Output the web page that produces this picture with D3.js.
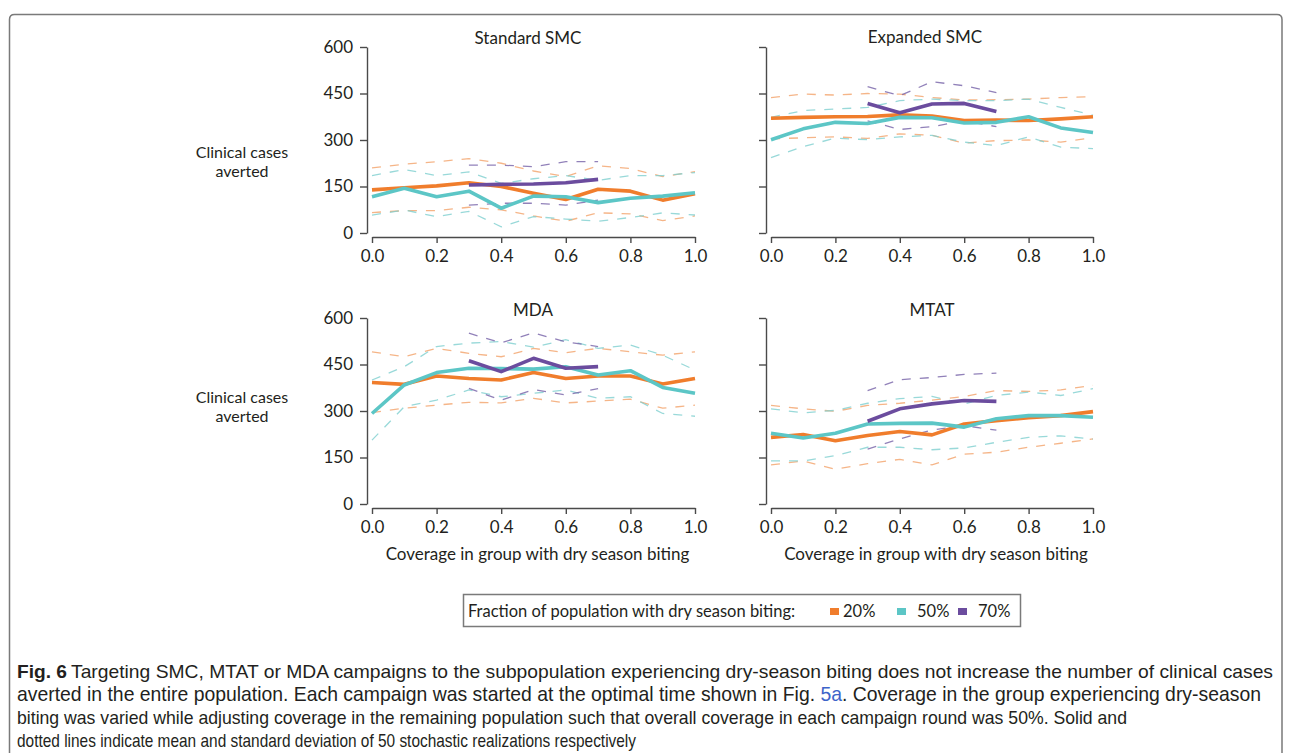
<!DOCTYPE html>
<html>
<head>
<meta charset="utf-8">
<script src="https://cdn.jsdelivr.net/npm/d3@7"></script>
<style>
  html, body { margin: 0; padding: 0; background: #fff; }
  svg { display: block; }
</style>
</head>
<body>
<svg id="chart" width="1290" height="753"></svg>
<script>
// ---------------- DATA ----------------
const coverage = [0, 0.1, 0.2, 0.3, 0.4, 0.5, 0.6, 0.7, 0.8, 0.9, 1.0];
const coverage70 = [0.3, 0.4, 0.5, 0.6, 0.7];
const panelTitles = ["Standard SMC", "Expanded SMC", "MDA", "MTAT"];
const yTickValues = [0, 150, 300, 450, 600];
const xTickValues = [0, 0.2, 0.4, 0.6, 0.8, 1.0];
const seriesNames = ["20%", "50%", "70%"];
const legendTitle = "Fraction of population with dry season biting:";
const yAxisTitle = ["Clinical cases", "averted"];
const xAxisTitle = "Coverage in group with dry season biting";

// Standard SMC
const stdSmc20Mean  = [139, 146, 152, 162, 150, 128, 108, 141, 135, 106, 127];
const stdSmc20Upper = [210, 222, 230, 240, 225, 200, 182, 217, 208, 182, 198];
const stdSmc20Lower = [66, 72, 72, 83, 75, 55, 38, 65, 62, 40, 55];
const stdSmc50Mean  = [117, 144, 117, 135, 80, 119, 117, 98, 112, 119, 130];
const stdSmc50Upper = [185, 205, 185, 197, 160, 175, 185, 170, 185, 185, 195];
const stdSmc50Lower = [58, 74, 53, 70, 20, 53, 45, 38, 50, 65, 58];
const stdSmc70Mean  = [155, 157, 158, 162, 173];
const stdSmc70Upper = [219, 219, 214, 230, 230];
const stdSmc70Lower = [90, 96, 96, 90, 106];

// Expanded SMC
const expSmc20Mean  = [370, 373, 375, 376, 381, 377, 363, 364, 363, 368, 375];
const expSmc20Upper = [437, 448, 445, 450, 448, 437, 429, 430, 432, 437, 440];
const expSmc20Lower = [304, 307, 310, 305, 320, 315, 290, 298, 300, 293, 308];
const expSmc50Mean  = [301, 336, 357, 353, 373, 372, 355, 357, 375, 339, 324];
const expSmc50Upper = [373, 395, 400, 405, 427, 432, 427, 427, 432, 405, 380];
const expSmc50Lower = [243, 279, 306, 301, 310, 315, 293, 282, 310, 277, 272];
const expSmc70Mean  = [418, 388, 416, 418, 392];
const expSmc70Upper = [472, 443, 488, 475, 453];
const expSmc70Lower = [362, 334, 343, 362, 343];

// MDA
const mda20Mean  = [392, 386, 413, 405, 400, 424, 405, 413, 413, 387, 405];
const mda20Upper = [491, 475, 502, 486, 475, 502, 488, 502, 491, 480, 491];
const mda20Lower = [295, 309, 319, 328, 326, 341, 326, 332, 338, 309, 319];
const mda50Mean  = [292, 384, 424, 438, 437, 435, 443, 416, 430, 376, 357];
const mda50Upper = [400, 443, 508, 519, 524, 506, 530, 502, 513, 480, 432];
const mda50Lower = [206, 314, 335, 368, 346, 357, 368, 341, 346, 292, 283];
const mda70Mean  = [462, 427, 470, 438, 443];
const mda70Upper = [551, 520, 552, 523, 508];
const mda70Lower = [373, 335, 369, 352, 372];

// MTAT
const mtat20Mean  = [215, 224, 204, 221, 234, 223, 258, 269, 278, 285, 298];
const mtat20Upper = [318, 307, 299, 318, 325, 335, 347, 366, 363, 368, 383];
const mtat20Lower = [126, 139, 112, 130, 144, 126, 161, 167, 183, 196, 210];
const mtat50Mean  = [228, 213, 228, 258, 260, 261, 248, 275, 285, 285, 280];
const mtat50Upper = [307, 294, 302, 325, 340, 347, 323, 350, 361, 350, 372];
const mtat50Lower = [139, 139, 156, 183, 183, 175, 181, 199, 215, 220, 209];
const mtat70Mean  = [267, 307, 323, 334, 331];
const mtat70Upper = [366, 401, 408, 418, 422];
const mtat70Lower = [177, 210, 239, 253, 238];

const captionLine1 = ["Fig. 6", "Targeting SMC, MTAT or MDA campaigns to the subpopulation experiencing dry-season biting does not increase the number of clinical cases"];
const captionLine2 = ["averted in the entire population. Each campaign was started at the optimal time shown in Fig. ", "5a", ". Coverage in the group experiencing dry-season"];
const captionLine3 = "biting was varied while adjusting coverage in the remaining population such that overall coverage in each campaign round was 50%. Solid and";
const captionLine4 = "dotted lines indicate mean and standard deviation of 50 stochastic realizations respectively";

// ---------------- LAYOUT / STYLE ----------------
const colors = ["#f07d2c", "#5cc6c6", "#6b4c9e"];
const dashColors = ["#f3a26a", "#7fcfd0", "#7662a8"];
const FONT = "Lato, 'Open Sans', sans-serif";
const CAPFONT = "'Liberation Sans', Arial, sans-serif";
const textColor = "#231f20";
const axisColor = "#4a4a4a";

const panels = [
  { title: panelTitles[0], x0: 372, x1: 695, yb: 233, yt: 47, labels: true, titleY: 44, titleX: 528,
    series: [[stdSmc20Mean, stdSmc20Upper, stdSmc20Lower], [stdSmc50Mean, stdSmc50Upper, stdSmc50Lower], [stdSmc70Mean, stdSmc70Upper, stdSmc70Lower]] },
  { title: panelTitles[1], x0: 771, x1: 1093, yb: 233, yt: 47, labels: false, titleY: 43, titleX: 925,
    series: [[expSmc20Mean, expSmc20Upper, expSmc20Lower], [expSmc50Mean, expSmc50Upper, expSmc50Lower], [expSmc70Mean, expSmc70Upper, expSmc70Lower]] },
  { title: panelTitles[2], x0: 372, x1: 695, yb: 504, yt: 318, labels: true, titleY: 316, titleX: 533, xTitle: true,
    series: [[mda20Mean, mda20Upper, mda20Lower], [mda50Mean, mda50Upper, mda50Lower], [mda70Mean, mda70Upper, mda70Lower]] },
  { title: panelTitles[3], x0: 771, x1: 1093, yb: 504, yt: 318, labels: false, titleY: 316, titleX: 932, xTitle: true,
    series: [[mtat20Mean, mtat20Upper, mtat20Lower], [mtat50Mean, mtat50Upper, mtat50Lower], [mtat70Mean, mtat70Upper, mtat70Lower]] }
];

const svg = d3.select("#chart");

// outer frame
svg.append("path")
  .attr("d", "M9.5,753 V19.5 Q9.5,14.5 14.5,14.5 H1277 Q1282,14.5 1282,19.5 V753")
  .attr("fill", "none").attr("stroke", "#7a7a7a").attr("stroke-width", 1.5);

panels.forEach(p => {
  const g = svg.append("g");
  const x = d3.scaleLinear().domain([0, 1]).range([p.x0, p.x1]);
  const y = d3.scaleLinear().domain([0, 600]).range([p.yb, p.yt]);

  const ya = g.append("g").attr("transform", `translate(${p.x0 - 5},0)`)
    .call(d3.axisLeft(y).tickValues(yTickValues).tickSize(7).tickSizeOuter(0).tickPadding(7)
      .tickFormat(p.labels ? d3.format("d") : () => ""));
  const xa = g.append("g").attr("transform", `translate(0,${p.yb + 4})`)
    .call(d3.axisBottom(x).tickValues(xTickValues).tickSize(6).tickSizeOuter(0).tickPadding(7)
      .tickFormat(d3.format(".1f")));
  [ya, xa].forEach(a => {
    a.attr("font-family", FONT).attr("font-size", 17);
    a.selectAll("path, line").attr("stroke", axisColor).attr("stroke-width", 1.4);
    a.selectAll("text").attr("fill", textColor);
  });

  g.append("text").attr("x", p.titleX).attr("y", p.titleY).attr("text-anchor", "middle")
    .attr("font-family", FONT).attr("font-size", 17).attr("fill", textColor).text(p.title);

  if (p.labels) {
    const cy = (p.yb + p.yt) / 2;
    const off = p.yb < 300 ? 21 : -5;
    yAxisTitle.forEach((t, i) => {
      g.append("text").attr("x", 242).attr("y", cy + off + i * 19 - 3).attr("text-anchor", "middle")
        .attr("font-family", FONT).attr("font-size", 16).attr("fill", textColor).text(t);
    });
  }
  if (p.xTitle) {
    g.append("text").attr("x", (p.x0 + p.x1) / 2 + 4).attr("y", p.yb + 56).attr("text-anchor", "middle")
      .attr("font-family", FONT).attr("font-size", 17).attr("fill", textColor).text(xAxisTitle);
  }

  const line = d3.line().x(d => x(d[0])).y(d => y(d[1]));
  p.series.forEach((s, si) => {
    const xs = si === 2 ? coverage70 : coverage;
    [s[1], s[2]].forEach(arr => {
      g.append("path").datum(xs.map((xv, i) => [xv, arr[i]]))
        .attr("d", line).attr("fill", "none")
        .attr("stroke", dashColors[si]).attr("stroke-width", 1.3)
        .attr("stroke-opacity", 0.8)
        .attr("stroke-dasharray", "9,9");
    });
  });
  p.series.forEach((s, si) => {
    const xs = si === 2 ? coverage70 : coverage;
    g.append("path").datum(xs.map((xv, i) => [xv, s[0][i]]))
      .attr("d", line).attr("fill", "none")
      .attr("stroke", colors[si]).attr("stroke-width", 3.6)
      .attr("stroke-linejoin", "round");
  });
});

// legend
const lg = svg.append("g");
lg.append("rect").attr("x", 463.5).attr("y", 594.5).attr("width", 557).attr("height", 32)
  .attr("fill", "#fff").attr("stroke", "#7a7a7a").attr("stroke-width", 1.5);
lg.append("text").attr("x", 468).attr("y", 617).attr("font-family", FONT).attr("font-size", 16.5)
  .attr("fill", textColor).text(legendTitle);
const legendX = [830, 897, 958];
const legendTextX = [843, 917, 978];
seriesNames.forEach((n, i) => {
  lg.append("rect").attr("x", legendX[i]).attr("y", 608).attr("width", 9).attr("height", 7)
    .attr("fill", colors[i]);
  lg.append("text").attr("x", legendTextX[i]).attr("y", 617).attr("font-family", FONT).attr("font-size", 16.5)
    .attr("fill", textColor).text(n);
});

// caption
const capG = svg.append("g");
const capY = [678, 701, 724, 747];
const CAPSIZE = 19;
function capText(str, x, y, w, opts = {}) {
  return capG.append("text").attr("x", x).attr("y", y).attr("font-family", CAPFONT)
    .attr("font-size", CAPSIZE).attr("font-weight", opts.bold ? "bold" : "normal")
    .attr("fill", opts.fill || textColor)
    .attr("textLength", w).attr("lengthAdjust", "spacingAndGlyphs").text(str);
}
capText(captionLine1[0], 17, capY[0], 50, { bold: true });
capText(captionLine1[1], 71, capY[0], 1202);
// line 2: natural flow with tspans, font size fitted so the line spans the same width as the reference
const l2 = capG.append("text").attr("x", 17).attr("y", capY[1]).attr("font-family", CAPFONT)
  .attr("font-size", CAPSIZE).attr("fill", textColor);
l2.append("tspan").text(captionLine2[0]);
l2.append("tspan").attr("fill", "#3d63c9").text(captionLine2[1]);
l2.append("tspan").text(captionLine2[2]);
const natural2 = l2.node().getComputedTextLength();
l2.attr("font-size", CAPSIZE * 1245 / natural2);
capText(captionLine3, 17, capY[2], 1110);
capText(captionLine4, 17, capY[3], 619);
</script>
</body>
</html>
